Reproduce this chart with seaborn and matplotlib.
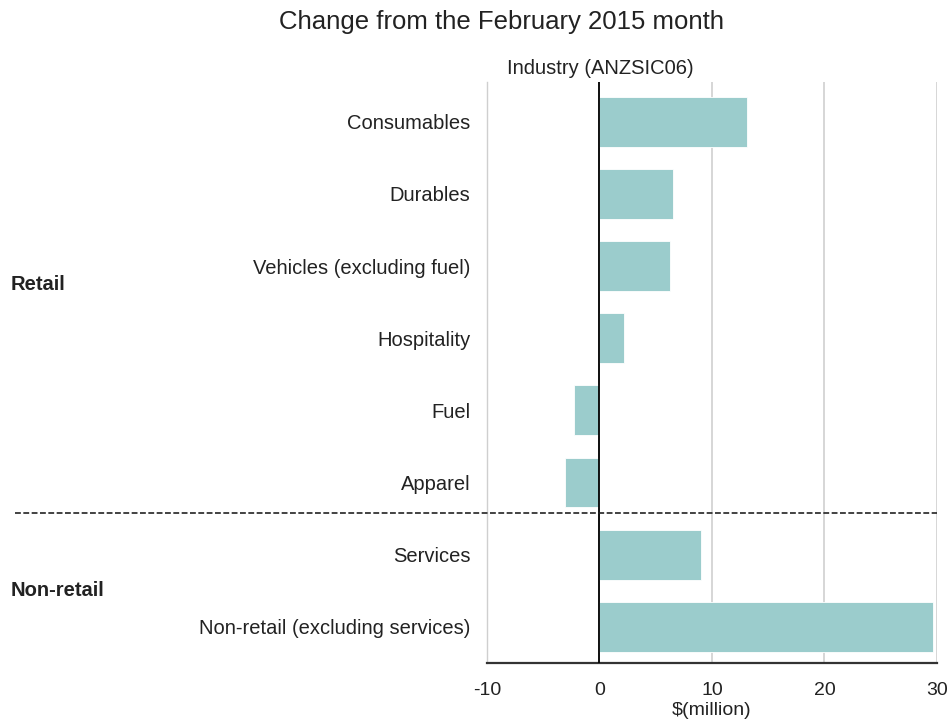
import matplotlib

matplotlib.use("Agg")

import matplotlib.pyplot as plt
import matplotlib.transforms as mtransforms
import pandas as pd
import seaborn as sns

# data ($ million change from Feb 2015)
industries = [
    "Consumables",
    "Durables",
    "Vehicles (excluding fuel)",
    "Hospitality",
    "Fuel",
    "Apparel",
    "Services",
    "Non-retail (excluding services)",
]
changes = [13.1, 6.5, 6.3, 2.2, -2.3, -3.1, 9.0, 29.6]
groups = ["Retail"] * 6 + ["Non-retail"] * 2
x_ticks = [-10, 0, 10, 20, 30]

BAR_COLOR = "#9BCCCC"
FONT = ["Liberation Sans", "DejaVu Sans"]

sns.set_theme(style="white")
plt.rcParams["font.family"] = FONT
plt.rcParams["axes.unicode_minus"] = False

df = pd.DataFrame({"industry": industries, "change": changes, "group": groups})

fig = plt.figure(figsize=(9.48, 7.24), dpi=100)
ax = fig.add_axes([0.5137, 0.0843, 0.4747, 0.8024])

sns.barplot(data=df, y="industry", x="change", orient="h", color=BAR_COLOR,
            saturation=1, width=0.69, edgecolor="white", linewidth=0.6, ax=ax)

ax.set_xlim(x_ticks[0], x_ticks[-1])
ax.set_xticks(x_ticks)
ax.set_ylim(len(industries) - 0.5, -0.55)
ax.xaxis.grid(True, color="#d0d0d0", linewidth=1.2)
ax.set_axisbelow(True)
ax.axvline(0, color="black", linewidth=1.3, zorder=3)

for side in ["top", "right"]:
    ax.spines[side].set_visible(False)
ax.spines["left"].set_color("#cfcfcf")
ax.spines["left"].set_linewidth(1.0)
ax.spines["bottom"].set_color("#333333")
ax.spines["bottom"].set_linewidth(1.6)

ax.tick_params(axis="y", length=0, pad=12, labelsize=14.5, labelcolor="#222222")
ax.tick_params(axis="x", length=0, pad=14, labelsize=14, labelcolor="#222222")
ax.set_ylabel("")
ax.set_xlabel("$(million)", fontsize=14, color="#222222", labelpad=2)

# separator between retail and non-retail groups
n_retail = groups.count("Retail")
sep_y = n_retail - 0.58
trans = mtransforms.blended_transform_factory(fig.transFigure, ax.transData)
ax.plot([0.016, 0.9884], [sep_y, sep_y], transform=trans, color="#222222",
        linestyle=(0, (3.5, 1.5)), linewidth=1.2, clip_on=False, zorder=4)

# group labels
retail_mid = (n_retail - 1) / 2
nonretail_mid = n_retail + (len(groups) - n_retail - 1) / 2
for label, yv in [("Retail", retail_mid - 0.25), ("Non-retail", nonretail_mid)]:
    ax.text(0.011, yv, label, transform=trans, fontsize=14.5, fontweight="bold",
            ha="left", va="center", color="#222222")

fig.text(0.529, 0.969, "Change from the February 2015 month", ha="center",
         va="center", fontsize=18.5, color="#222222")
fig.text(0.633, 0.906, "Industry (ANZSIC06)", ha="center", va="center",
         fontsize=14.5, color="#222222")

fig.savefig("out.png", dpi=100)
